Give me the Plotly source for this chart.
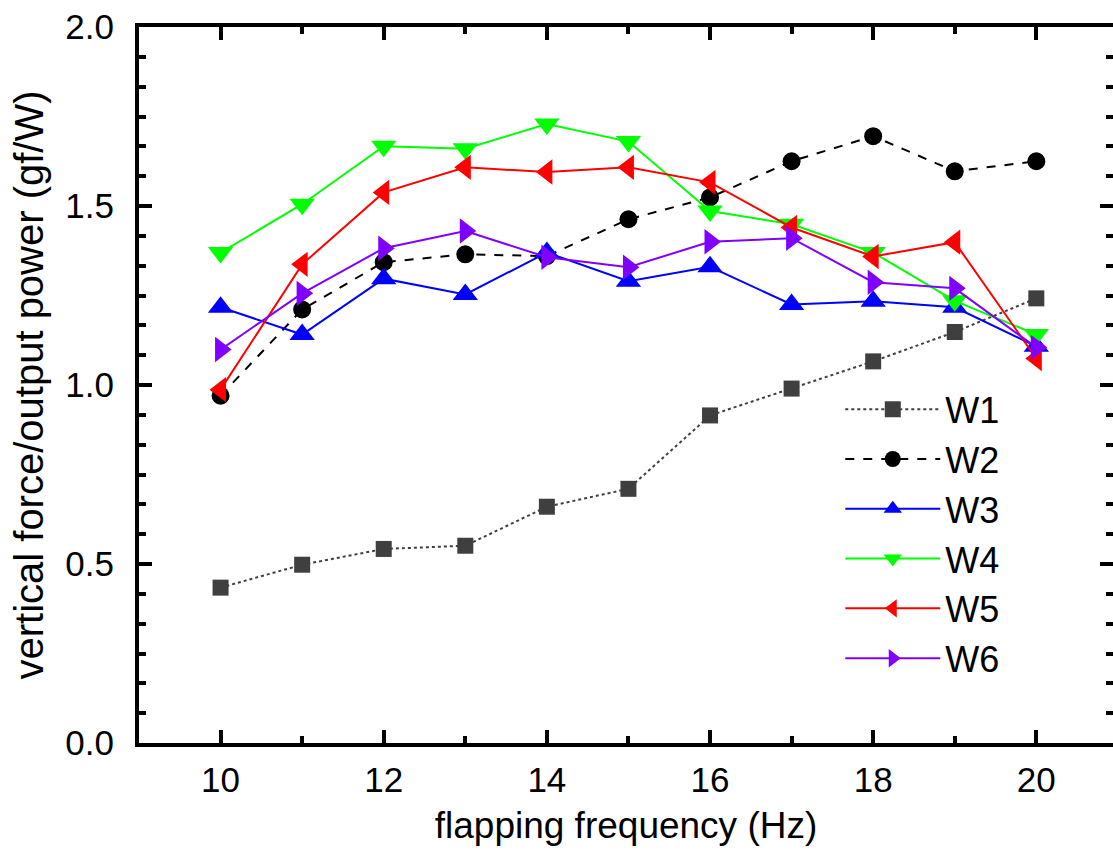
import plotly.graph_objects as go

freq = [10, 11, 12, 13, 14, 15, 16, 17, 18, 19, 20]
w1 = [0.434, 0.498, 0.542, 0.551, 0.660, 0.710, 0.915, 0.990, 1.066, 1.148, 1.242]
w2 = [0.970, 1.211, 1.343, 1.365, 1.360, 1.463, 1.524, 1.625, 1.695, 1.597, 1.625]
w3 = [1.217, 1.141, 1.297, 1.253, 1.370, 1.290, 1.330, 1.225, 1.234, 1.217, 1.108]
w4 = [1.370, 1.505, 1.667, 1.660, 1.729, 1.680, 1.486, 1.449, 1.370, 1.235, 1.141]
w5 = [0.987, 1.337, 1.538, 1.608, 1.595, 1.608, 1.566, 1.440, 1.359, 1.399, 1.074]
w6 = [1.099, 1.256, 1.382, 1.430, 1.357, 1.329, 1.400, 1.410, 1.287, 1.270, 1.105]

series = [
    ("W1", w1, "#3f3f3f", "dot", "square", 16),
    ("W2", w2, "#000000", "dash", "circle", 18),
    ("W3", w3, "#0000ff", "solid", "triangle-up", 22),
    ("W4", w4, "#00ff00", "solid", "triangle-down", 22),
    ("W5", w5, "#ff0000", "solid", "triangle-left", 22),
    ("W6", w6, "#8000ff", "solid", "triangle-right", 22),
]

fig = go.Figure()
for name, vals, color, dash, sym, sz in series:
    fig.add_trace(go.Scatter(
        x=freq, y=vals, name=name, mode="lines+markers",
        line=dict(color=color, width=2, dash=dash),
        marker=dict(symbol=sym, size=sz, color=color, line=dict(width=0)),
    ))

# invisible trace to carry the right-side tick axis
fig.add_trace(go.Scatter(x=[freq[0]], y=[w1[0]], yaxis="y2", mode="markers",
                         marker=dict(opacity=0), showlegend=False, hoverinfo="skip"))

font = "Liberation Sans, Arial, sans-serif"
yticks = dict(range=[0, 2.0], tick0=0, dtick=0.5,
              ticks="inside", ticklen=13, tickwidth=4, tickcolor="black",
              minor=dict(ticks="inside", ticklen=7, tickwidth=4, tickcolor="black",
                         dtick=0.5 / 6, tick0=0))

fig.update_layout(
    width=1113, height=850,
    margin=dict(l=139, r=0, t=27, b=107),
    paper_bgcolor="white", plot_bgcolor="white",
    font=dict(family=font, color="black"),
    showlegend=True,
    legend=dict(x=0.72, y=0.508, xanchor="left", yanchor="top",
                font=dict(size=36, family=font), itemwidth=95,
                bgcolor="rgba(0,0,0,0)", tracegroupgap=0),
    xaxis=dict(range=[9.0, 20.94], tick0=10, dtick=2,
               showline=True, linewidth=4, linecolor="black", mirror="ticks",
               ticks="inside", ticklen=13, tickwidth=4, tickcolor="black",
               minor=dict(ticks="inside", ticklen=7, tickwidth=4, tickcolor="black", dtick=1),
               showgrid=False, zeroline=False,
               tickfont=dict(size=35), ticklabelstandoff=3,
               title=dict(text="flapping frequency (Hz)", font=dict(size=37), standoff=15)),
    yaxis=dict(**yticks, showline=True, linewidth=4, linecolor="black",
               showgrid=False, zeroline=False, tickformat=".1f",
               tickfont=dict(size=35), ticklabelstandoff=14,
               title=dict(text="vertical force/output power (gf/W)", font=dict(size=40), standoff=10)),
    yaxis2=dict(**yticks, overlaying="y", side="right", showline=False,
                showticklabels=False, showgrid=False, zeroline=False),
)

fig.write_html("out.html")
